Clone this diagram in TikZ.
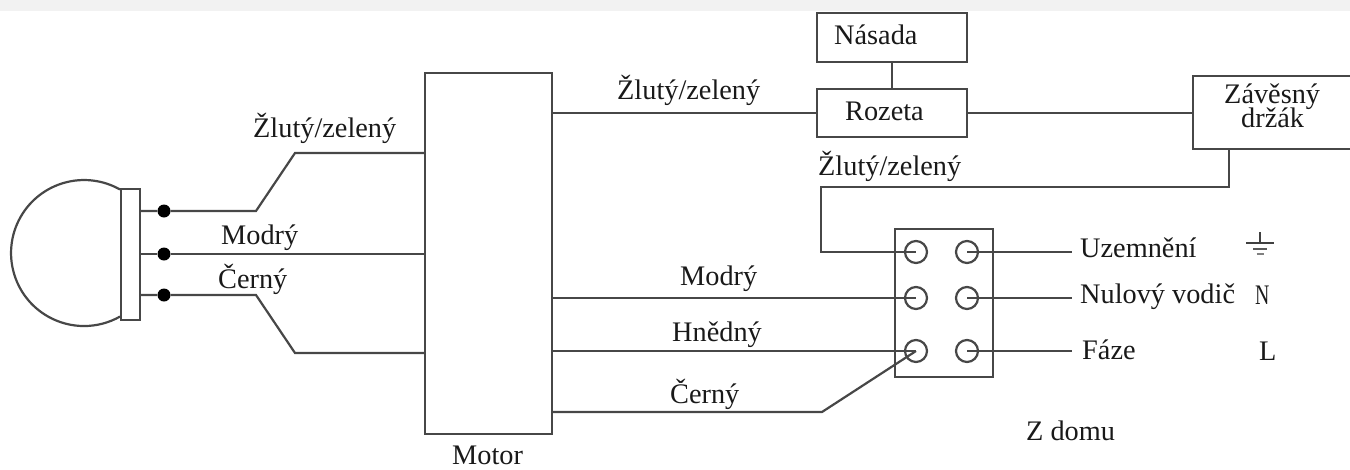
\documentclass[tikz,border=0pt]{standalone}
\usepackage{fontspec}
\usetikzlibrary{calc}
\setmainfont{Liberation Serif}
\tikzset{
  wire/.style={draw=black!72,line width=2.2pt,line join=miter},
  lbl/.style={inner sep=0pt,anchor=base west,text=black!90,font=\fontsize{28.3}{28.3}\selectfont},
  blk/.style={draw=black!72,line width=2.2pt,fill=white,inner sep=0pt,rectangle,anchor=north west},
  hole/.style={circle,draw=black!72,line width=2.2pt,minimum size=22pt,inner sep=0pt},
  dotn/.style={circle,fill=black,minimum size=13pt,inner sep=0pt},
  gndl/.style={draw=black!75,line width=2.8pt}
}
\begin{document}
\begin{tikzpicture}[x=1pt,y=-1pt]
\useasboundingbox (0,0) rectangle (1350,469);
\fill[black!5] (0,0) rectangle (1350,11);
% fan
\draw[wire] (120,189.5) arc[start angle=60.5,end angle=299.5,radius=73pt];
\node[blk,minimum width=19pt,minimum height=131pt] (term) at (120,188) {};
\node[blk,minimum width=127pt,minimum height=361pt] (motor) at (424,72) {};
\node[blk,minimum width=150pt,minimum height=49pt] (nasada) at (816,12) {};
\node[blk,minimum width=150pt,minimum height=48pt] (rozeta) at (816,88) {};
\node[blk,minimum width=170pt,minimum height=73pt] (zaves) at (1192,75) {};
\node[blk,minimum width=98pt,minimum height=148pt] (strip) at (894,228) {};
% dots and bends
\node[dotn] (d1) at (164,211) {};
\node[dotn] (d2) at (164,254) {};
\node[dotn] (d3) at (164,295) {};
\coordinate (a1) at (256,211);
\coordinate (a2) at (295,153);
\coordinate (c1) at (256,295);
\coordinate (c2) at (295,353);
\draw[wire] (term.east |- d1) -- (d1) -- (a1) -- (a2) -- (motor.west |- a2);
\draw[wire] (term.east |- d2) -- (d2) -- (motor.west |- d2);
\draw[wire] (term.east |- d3) -- (d3) -- (c1) -- (c2) -- (motor.west |- c2);
% holes
\node[hole] (h1) at (916,252) {};
\node[hole] (h2) at (916,298) {};
\node[hole] (h3) at (916,351) {};
\node[hole] (r1) at (967,252) {};
\node[hole] (r2) at (967,298) {};
\node[hole] (r3) at (967,351) {};
% top wires
\draw[wire] (nasada) -- (rozeta);
\draw[wire] (motor.east |- rozeta) -- (rozeta.west);
\draw[wire] (rozeta.east) -- (rozeta.east -| zaves.west);
\coordinate (g1) at (1229,187);
\coordinate (g2) at (821,187);
\draw[wire] (g1 |- zaves.south) -- (g1) -- (g2) -- (g2 |- h1) -- (h1.center);
\draw[wire] (motor.east |- h2) -- (h2.center);
\draw[wire] (motor.east |- h3) -- (h3.center);
\coordinate (k1) at (822,412);
\draw[wire] (motor.east |- k1) -- (k1) -- (h3.center);
\coordinate (e1) at (1072,252);
\coordinate (e2) at (1072,298);
\coordinate (e3) at (1072,351);
\draw[wire] (r1.center) -- (e1);
\draw[wire] (r2.center) -- (e2);
\draw[wire] (r3.center) -- (e3);
% ground
\coordinate (gnd) at (1260,243);
\draw[gndl] ($(gnd)+(0,-11)$) -- (gnd);
\draw[gndl] ($(gnd)+(-14,0)$) -- ($(gnd)+(14,0)$);
\draw[gndl,draw=black!65] ($(gnd)+(-7,6)$) -- ($(gnd)+(7,6)$);
\draw[gndl,draw=black!50] ($(gnd)+(-3.5,11)$) -- ($(gnd)+(3.5,11)$);
% labels
\node[lbl] (t1) at (253,137) {Žlutý/zelený};
\node[lbl] (t2) at (221,244) {Modrý};
\node[lbl] (t3) at (218,288) {Černý};
\node[lbl] (t4) at (617,99) {Žlutý/zelený};
\node[lbl] (t5) at (834,44) {Násada};
\node[lbl] (t6) at (845,120) {Rozeta};
\node[lbl] (t7) at (1224,103) {Závěsný};
\node[lbl] (t8) at (1241,127) {držák};
\node[lbl] (t9) at (818,175) {Žlutý/zelený};
\node[lbl] (t10) at (680,285) {Modrý};
\node[lbl] (t11) at (672,341) {Hnědný};
\node[lbl] (t12) at (670,403) {Černý};
\node[lbl] (t13) at (452,464) {Motor};
\node[lbl] (t14) at (1080,257) {Uzemnění};
\node[lbl] (t15) at (1080,303) {Nulový vodič};
\node[lbl] (t16) at (1082,359) {Fáze};
\node[lbl] (t17) at (1026,440) {Z domu};
\node[lbl,xscale=.7] (t18) at (1255,304) {N};
\node[lbl] (t19) at (1259,360) {L};
\end{tikzpicture}
\end{document}
